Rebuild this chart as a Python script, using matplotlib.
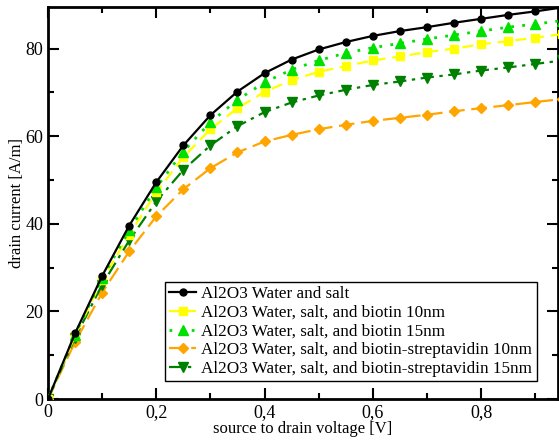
import matplotlib
matplotlib.use("Agg")
import matplotlib.pyplot as plt
from matplotlib.ticker import MultipleLocator, FuncFormatter

plt.rcParams['font.family'] = ['Liberation Serif', 'DejaVu Serif']

voltage = [0.0, 0.05, 0.1, 0.15, 0.2, 0.25, 0.3, 0.35, 0.4, 0.45, 0.5,
           0.55, 0.6, 0.65, 0.7, 0.75, 0.8, 0.85, 0.9, 0.95]

water_salt = [0.0, 15.0, 28.1, 39.6, 49.5, 57.9, 64.8, 70.2, 74.4, 77.5, 79.8,
              81.5, 82.9, 84.0, 84.9, 85.9, 86.8, 87.7, 88.5, 89.4]
biotin_10 = [0.0, 14.4, 27.2, 37.5, 47.2, 55.2, 61.6, 66.4, 70.1, 72.8, 74.7,
             76.0, 77.3, 78.2, 79.2, 80.0, 81.0, 81.7, 82.5, 83.3]
biotin_15 = [0.0, 14.7, 27.6, 38.5, 48.3, 56.5, 63.2, 68.3, 72.3, 75.2, 77.3,
             79.0, 80.2, 81.2, 82.2, 83.1, 84.0, 84.9, 85.6, 86.4]
strep_10 = [0.0, 13.0, 24.3, 33.7, 41.7, 47.9, 52.7, 56.3, 58.8, 60.3, 61.6,
            62.6, 63.5, 64.2, 64.9, 65.7, 66.4, 67.1, 67.8, 68.5]
strep_15 = [0.0, 14.0, 26.1, 36.2, 45.1, 52.3, 57.9, 62.3, 65.5, 67.7, 69.3,
            70.6, 71.7, 72.5, 73.4, 74.1, 75.0, 75.7, 76.5, 77.3]

labels = ["Al2O3 Water and salt",
          "Al2O3 Water, salt, and biotin 10nm",
          "Al2O3 Water, salt, and biotin 15nm",
          "Al2O3 Water, salt, and biotin-streptavidin 10nm",
          "Al2O3 Water, salt, and biotin-streptavidin 15nm"]

fig = plt.figure(figsize=(5.59, 4.41), dpi=100)
ax = fig.add_axes([48 / 559, 42 / 441, (558 - 48) / 559, (399 - 7) / 441])

lw = 1.6
ax.plot(voltage, water_salt, color='black', linestyle='-', marker='o', ms=5, lw=lw, label=labels[0], zorder=6)
ax.plot(voltage, biotin_10, color='#ffff00', linestyle=(0, (5, 3)), marker='s', ms=5.5, lw=lw, label=labels[1], zorder=4)
ax.plot(voltage, biotin_15, color='#00e000', linestyle=(0, (1, 3)), marker='^', ms=6.5, lw=2.0, label=labels[2], zorder=5)
ax.plot(voltage, strep_10, color='#ffa500', linestyle=(0, (7, 3)), marker='D', ms=5, lw=lw, label=labels[3], zorder=3)
ax.plot(voltage, strep_15, color='#008000', linestyle=(0, (6, 2.5, 1.5, 2.5)), marker='v', ms=6.5, lw=lw, label=labels[4], zorder=3)

ax.set_xlim(0, 0.942)
ax.set_ylim(0, 89.5)
ax.xaxis.set_major_locator(MultipleLocator(0.2))
ax.xaxis.set_minor_locator(MultipleLocator(0.1))
ax.yaxis.set_major_locator(MultipleLocator(20))
ax.yaxis.set_minor_locator(MultipleLocator(10))

def xfmt(v, pos):
    if abs(v) < 1e-9:
        return "0"
    return ("%.1f" % v).replace('.', ',')

ax.xaxis.set_major_formatter(FuncFormatter(xfmt))
ax.yaxis.set_major_formatter(FuncFormatter(lambda v, p: "%d" % round(v)))

ax.tick_params(which='both', direction='in', top=True, right=True, width=1.5, labelsize=13)
ax.tick_params(which='major', length=8)
ax.tick_params(which='minor', length=4)
for s in ax.spines.values():
    s.set_linewidth(2)

ax.set_xlabel("source to drain voltage [V]", fontsize=12, labelpad=0)
ax.set_ylabel("drain current [A/m]", fontsize=12, labelpad=0)

leg = ax.legend(loc='lower right', bbox_to_anchor=(0.958, 0.046), fontsize=12.3,
                frameon=True, fancybox=False, edgecolor='black', framealpha=1,
                handlelength=1.6, handletextpad=0.3, borderpad=0.25, labelspacing=0.15,
                borderaxespad=0)
leg.get_frame().set_linewidth(1.0)

fig.savefig("out.png", dpi=100)
